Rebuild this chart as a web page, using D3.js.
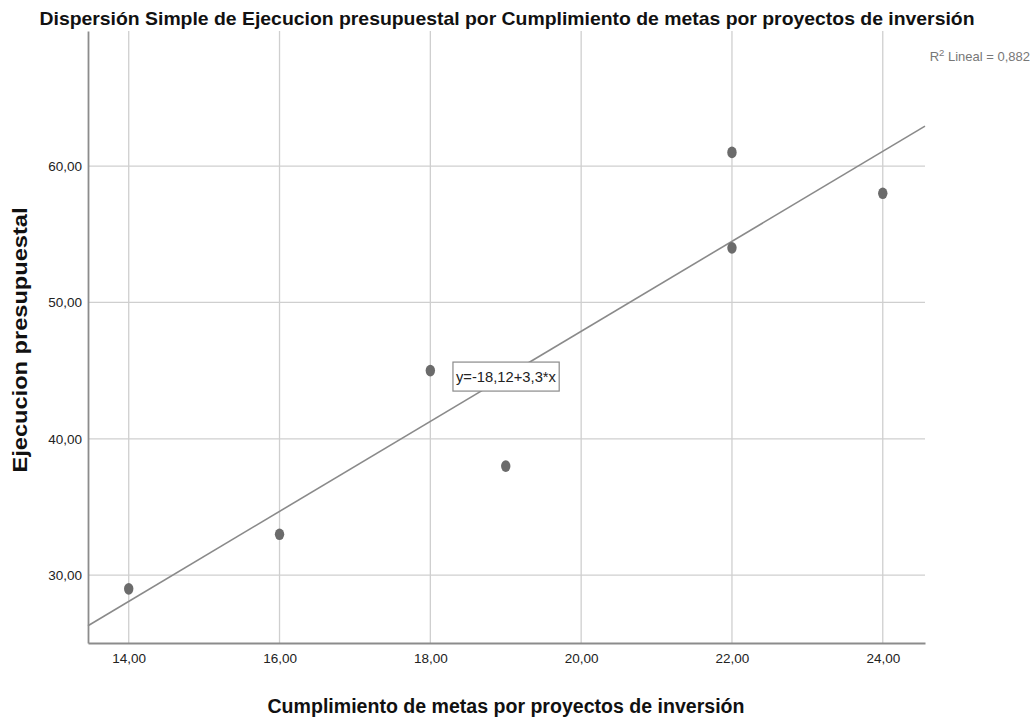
<!DOCTYPE html>
<html><head><meta charset="utf-8">
<script src="https://cdn.jsdelivr.net/npm/d3@7/dist/d3.min.js"></script>
<style>body{margin:0;background:#fff;} svg{display:block;}</style>
</head><body>
<script>
const xValues = [14, 16, 18, 19, 22, 22, 24];
const yValues = [29, 33, 45, 38, 61, 54, 58];
const xTicks = [14, 16, 18, 20, 22, 24];
const yTicks = [30, 40, 50, 60];
const fitIntercept = -18.12;
const fitSlope = 3.3;
const r2 = "0,882";
const titleText = "Dispersión Simple de Ejecucion presupuestal por Cumplimiento de metas por proyectos de inversión";
const xLabel = "Cumplimiento de metas por proyectos de inversión";
const yLabel = "Ejecucion presupuestal";
const eqText = "y=-18,12+3,3*x";

const W = 1034, H = 718;
const m = {left: 88, right: 925, top: 31, bottom: 643};
const svg = d3.select("body").append("svg").attr("width", W).attr("height", H);
const fmt = d => d.toFixed(2).replace(".", ",");
const x = d3.scaleLinear().domain([13.46, 24.56]).range([m.left, m.right]);
const y = d3.scaleLinear().domain([25.03, 69.9]).range([m.bottom, m.top]);
const font = "'Liberation Sans',Arial,sans-serif";

// grid
svg.append("g").selectAll("line").data(xTicks).join("line")
  .attr("x1", d => x(d)).attr("x2", d => x(d)).attr("y1", m.top).attr("y2", m.bottom)
  .attr("stroke", "#cfcfcf").attr("stroke-width", 1.3);
svg.append("g").selectAll("line").data(yTicks).join("line")
  .attr("y1", d => y(d)).attr("y2", d => y(d)).attr("x1", m.left).attr("x2", m.right)
  .attr("stroke", "#cfcfcf").attr("stroke-width", 1.3);

// axes
const xAxis = d3.axisBottom(x).tickValues(xTicks).tickFormat(fmt).tickSize(0).tickPadding(10);
const gx = svg.append("g").attr("transform", `translate(0,${m.bottom})`).call(xAxis);
gx.select(".domain").attr("stroke", "#8c8c8c").attr("stroke-width", 1.8);
gx.selectAll("text").attr("font-family", font).attr("font-size", 13.5).attr("fill", "#222");
const yAxis = d3.axisLeft(y).tickValues(yTicks).tickFormat(fmt).tickSize(0).tickPadding(6);
const gy = svg.append("g").attr("transform", `translate(${m.left},0)`).call(yAxis);
gy.select(".domain").attr("stroke", "#8c8c8c").attr("stroke-width", 1.8);
gy.selectAll("text").attr("font-family", font).attr("font-size", 13.5).attr("fill", "#222");

// fit line
const xd = x.domain();
svg.append("line")
  .attr("x1", x(xd[0])).attr("y1", y(fitIntercept + fitSlope * xd[0]))
  .attr("x2", x(xd[1])).attr("y2", y(fitIntercept + fitSlope * xd[1]))
  .attr("stroke", "#8a8a8a").attr("stroke-width", 1.6);

// points
svg.append("g").selectAll("ellipse").data(xValues.map((v, i) => [v, yValues[i]])).join("ellipse")
  .attr("cx", d => x(d[0])).attr("cy", d => y(d[1])).attr("rx", 4.7).attr("ry", 5.8)
  .attr("fill", "#6b6b6b");

// equation box
const eqX = 18.3, eqY = 44.6;
const eqG = svg.append("g");
const eqT = eqG.append("text").attr("x", x(eqX) + 3).attr("y", y(eqY) + 6)
  .attr("font-family", font).attr("font-size", 15.5).attr("fill", "#222")
  .attr("textLength", 100).attr("lengthAdjust", "spacingAndGlyphs").text(eqText);
const bb = eqT.node().getBBox();
eqG.insert("rect", "text").attr("x", bb.x - 3).attr("y", bb.y - 6)
  .attr("width", bb.width + 6).attr("height", bb.height + 12)
  .attr("fill", "#fff").attr("stroke", "#8a8a8a").attr("stroke-width", 1.2);

// R2
const r2t = svg.append("text").attr("x", 1030).attr("y", 61).attr("text-anchor", "end")
  .attr("font-family", font).attr("font-size", 13).attr("fill", "#777");
r2t.append("tspan").text("R");
r2t.append("tspan").attr("dy", -5).attr("font-size", 9.5).text("2");
r2t.append("tspan").attr("dy", 5).text(" Lineal = " + r2);

// title
svg.append("text").attr("x", 507).attr("y", 25).attr("text-anchor", "middle")
  .attr("font-family", font).attr("font-weight", "bold").attr("font-size", 19)
  .attr("textLength", 935).attr("lengthAdjust", "spacingAndGlyphs")
  .attr("fill", "#111").text(titleText);
svg.append("text").attr("x", 506).attr("y", 713).attr("text-anchor", "middle")
  .attr("font-family", font).attr("font-weight", "bold").attr("font-size", 19.5)
  .attr("textLength", 477).attr("lengthAdjust", "spacingAndGlyphs")
  .attr("fill", "#111").text(xLabel);
svg.append("text").attr("transform", "translate(27,340) rotate(-90)").attr("text-anchor", "middle")
  .attr("font-family", font).attr("font-weight", "bold").attr("font-size", 20)
  .attr("textLength", 265).attr("lengthAdjust", "spacingAndGlyphs")
  .attr("fill", "#111").text(yLabel);
</script>
</body></html>
